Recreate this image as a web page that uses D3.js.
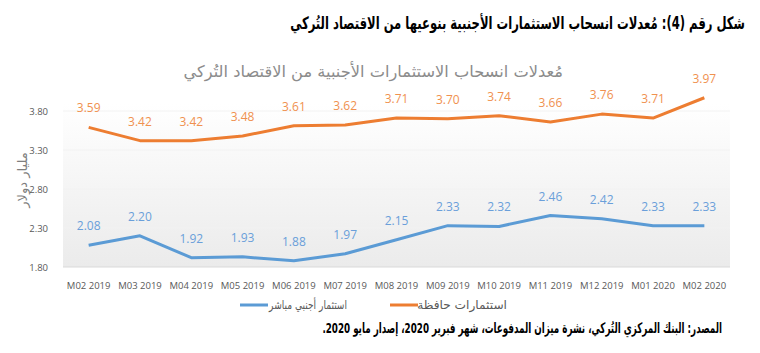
<!DOCTYPE html>
<html>
<head>
<meta charset="utf-8">
<script src="https://cdn.jsdelivr.net/npm/d3@7"></script>
<style>
  body { margin: 0; background: #fff; }
  svg { display: block; }
</style>
</head>
<body>
<svg id="chart"></svg>
<script>
const months = ["M02 2019", "M03 2019", "M04 2019", "M05 2019", "M06 2019", "M07 2019", "M08 2019",
                "M09 2019", "M10 2019", "M11 2019", "M12 2019", "M01 2020", "M02 2020"];
const portfolio = [3.59, 3.42, 3.42, 3.48, 3.61, 3.62, 3.71, 3.70, 3.74, 3.66, 3.76, 3.71, 3.97];
const direct = [2.08, 2.20, 1.92, 1.93, 1.88, 1.97, 2.15, 2.33, 2.32, 2.46, 2.42, 2.33, 2.33];
const yTicks = [1.80, 2.30, 2.80, 3.30, 3.80];

const series = [
    { name: "استثمارات حافظة", values: portfolio, color: "#ED7D31", label: "#F0914F" },
    { name: "استثمار أجنبي مباشر", values: direct, color: "#5B9BD5", label: "#6A9FDA" }
];

const W = 760, H = 353;
const margin = { top: 104, right: 30, bottom: 86, left: 63 };
const arabic = "'DejaVu Sans', sans-serif";
const latin = "'Open Sans', sans-serif";

const svg = d3.select("#chart").attr("width", W).attr("height", H);

const x = d3.scaleBand().domain(months).range([margin.left, W - margin.right]);
const y = d3.scaleLinear().domain([1.80, 3.80]).range([267, 111]);

// right-to-left text whose right edge sits at (px, py), squeezed to a given width
const rtlText = (px, py, str, size, fill, weight, width) => {
    const t = svg.append("text")
        .attr("x", 0)
        .attr("y", 0)
        .attr("direction", "rtl")
        .attr("text-anchor", "start")
        .attr("fill", fill)
        .style("font-family", arabic)
        .style("font-size", size + "px")
        .style("font-weight", weight)
        .text(str);
    const w = t.node().getComputedTextLength();
    const k = width ? width / w : 1;
    t.attr("transform", `translate(${px},${py}) scale(${k},1)`);
    return t;
};

// plot background: light grey fading up to white
const defs = svg.append("defs");
const grad = defs.append("linearGradient").attr("id", "bg").attr("x1", 0).attr("y1", 1).attr("x2", 0).attr("y2", 0);
grad.append("stop").attr("offset", "0%").attr("stop-color", "#ebebeb");
grad.append("stop").attr("offset", "100%").attr("stop-color", "#ffffff");

svg.append("rect")
    .attr("x", margin.left)
    .attr("y", margin.top)
    .attr("width", W - margin.right - margin.left)
    .attr("height", y(1.80) - margin.top)
    .attr("fill", "url(#bg)");

// gridlines
svg.append("g")
    .selectAll("line")
    .data(yTicks)
    .join("line")
    .attr("x1", margin.left)
    .attr("x2", W - margin.right)
    .attr("y1", d => y(d))
    .attr("y2", d => y(d))
    .attr("stroke", d => d === 1.80 ? "#d9d9d9" : "#f2f2f2")
    .attr("stroke-width", 1);

// y axis
const yAxis = svg.append("g")
    .attr("transform", `translate(${margin.left},0)`)
    .call(d3.axisLeft(y).tickValues(yTicks).tickFormat(d3.format(".2f")).tickSize(0).tickPadding(15));
yAxis.select(".domain").remove();
yAxis.selectAll("text")
    .attr("fill", "#595959")
    .style("font-family", latin)
    .style("font-size", "9.5px");

// x axis
const xAxis = svg.append("g")
    .attr("transform", `translate(0,${y(1.80)})`)
    .call(d3.axisBottom(x).tickSize(0).tickPadding(15));
xAxis.select(".domain").remove();
xAxis.selectAll("text")
    .attr("fill", "#595959")
    .style("font-family", latin)
    .style("font-size", "9.5px");

// y axis title
svg.append("text")
    .attr("transform", "translate(27,180) rotate(-90)")
    .attr("text-anchor", "middle")
    .attr("fill", "#7f7f7f")
    .style("font-family", arabic)
    .style("font-size", "13px")
    .text("مليار دولار");

// lines + labels
const line = d3.line()
    .x((d, i) => x(months[i]) + x.bandwidth() / 2)
    .y(d => y(d));

series.forEach(s => {
    svg.append("path")
        .datum(s.values)
        .attr("fill", "none")
        .attr("stroke", s.color)
        .attr("stroke-width", 3)
        .attr("stroke-linejoin", "round")
        .attr("d", line);

    svg.append("g")
        .selectAll("text")
        .data(s.values)
        .join("text")
        .attr("x", (d, i) => x(months[i]) + x.bandwidth() / 2)
        .attr("y", d => y(d) - 15)
        .attr("text-anchor", "middle")
        .attr("fill", s.label)
        .style("font-family", latin)
        .style("font-size", "12px")
        .text(d => d3.format(".2f")(d));
});

// legend (right-to-left: orange entry on the right)
const legend = [
    { s: series[1], lineX: 240, textX: 347, textW: 78 },
    { s: series[0], lineX: 390, textX: 507, textW: 90 }
];
legend.forEach(l => {
    svg.append("line")
        .attr("x1", l.lineX).attr("x2", l.lineX + 28)
        .attr("y1", 305).attr("y2", 305)
        .attr("stroke", l.s.color)
        .attr("stroke-width", 3);
    rtlText(l.textX, 309, l.s.name, 12, "#595959", "normal", l.textW);
});

// chart subtitle
rtlText(563, 77, "مُعدلات انسحاب الاستثمارات الأجنبية من الاقتصاد التُركي", 16, "#8c8c8c", "normal", 380);

// figure title
rtlText(745, 29, "شكل رقم (4): مُعدلات انسحاب الاستثمارات الأجنبية بنوعيها من الاقتصاد التُركي", 17, "#000", "bold", 455);

// source note
rtlText(722, 333, "المصدر: البنك المركزي التُركي، نشرة ميزان المدفوعات، شهر فبرير 2020، إصدار مايو 2020.", 14.5, "#000", "bold", 400);
</script>
</body>
</html>
